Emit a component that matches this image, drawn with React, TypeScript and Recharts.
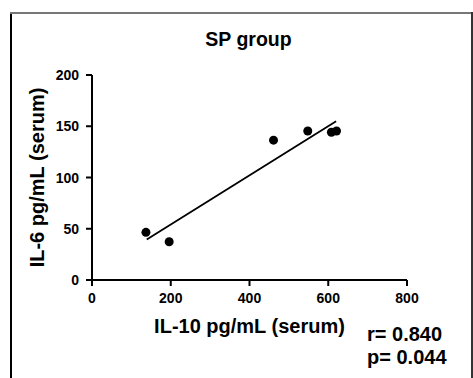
import React from 'react';
import { ScatterChart, Scatter, XAxis, YAxis, Label } from 'recharts';

// IL-10 (x) vs IL-6 (y), serum, SP group
const il10Values = [137, 196, 461, 548, 608, 621];
const il6Values = [46.5, 37.3, 136.4, 145.4, 144.2, 145.4];

// fitted regression line, endpoints
const fitX = [139, 620];
const fitY = [39.6, 154.9];

const xTicks = [0, 200, 400, 600, 800];
const yTicks = [0, 50, 100, 150, 200];

const stats = ['r= 0.840', 'p= 0.044'];

const points = il10Values.map((x, i) => ({ x, y: il6Values[i] }));
const fitLine = fitX.map((x, i) => ({ x, y: fitY[i] }));

const FONT = '"Liberation Sans", Arial, sans-serif';

const renderXTick = (props: any) => (
    <text
        key={`xt-${props.payload.value}`}
        x={props.x}
        y={props.y + 11}
        textAnchor="middle"
        style={{ fontSize: 14, fontWeight: 700, fontFamily: FONT, fill: '#000' }}
    >
        {props.payload.value}
    </text>
);
const renderYTick = (props: any) => (
    <text
        key={`yt-${props.payload.value}`}
        x={props.x}
        y={props.y + 5}
        textAnchor="end"
        style={{ fontSize: 14, fontWeight: 700, fontFamily: FONT, fill: '#000' }}
    >
        {props.payload.value}
    </text>
);

export default function App() {
    return (
        <div style={{ position: 'absolute', left: 0, top: 0, width: 473, height: 378, background: '#fff' }}>
            {/* frame */}
            <div style={{ position: 'absolute', left: 10, top: 12, width: 1.5, height: 366, background: '#000' }} />
            <div style={{ position: 'absolute', left: 10, top: 12, width: 463, height: 1.5, background: '#777' }} />
            <div style={{ position: 'absolute', left: 471, top: 12, width: 1.5, height: 366, background: '#333' }} />

            <div style={{ position: 'absolute', left: 0, top: 0 }}>
                <ScatterChart width={473} height={378} margin={{ top: 75, right: 66, bottom: 38, left: 30 }}>
                    <XAxis
                        type="number"
                        dataKey="x"
                        domain={[0, 800]}
                        ticks={xTicks}
                        height={60}
                        axisLine={{ stroke: '#000', strokeWidth: 2 }}
                        tickLine={{ stroke: '#000', strokeWidth: 2 }}
                        tickSize={6}
                        tickMargin={6}
                        tick={renderXTick}
                        interval={0}
                    >
                        <Label
                            value="IL-10 pg/mL (serum)"
                            position="insideBottom"
                            offset={7}
                            style={{ fill: '#000', fontSize: 20, fontWeight: 700, fontFamily: FONT }}
                        />
                    </XAxis>
                    <YAxis
                        type="number"
                        dataKey="y"
                        domain={[0, 200]}
                        ticks={yTicks}
                        width={62}
                        axisLine={{ stroke: '#000', strokeWidth: 2 }}
                        tickLine={{ stroke: '#000', strokeWidth: 2 }}
                        tickSize={6}
                        tickMargin={7}
                        tick={renderYTick}
                        interval={0}
                    >
                        <Label
                            value="IL-6 pg/mL (serum)"
                            angle={-90}
                            position="insideLeft"
                            offset={7}
                            style={{ textAnchor: 'middle', fill: '#000', fontSize: 20, fontWeight: 700, fontFamily: FONT }}
                        />
                    </YAxis>
                    <Scatter
                        data={fitLine}
                        line={{ stroke: '#000', strokeWidth: 1.8 }}
                        lineType="joint"
                        shape={() => <g />}
                        isAnimationActive={false}
                    />
                    <Scatter
                        data={points}
                        fill="#000"
                        shape={(p: any) => <circle cx={p.cx} cy={p.cy} r={4.5} fill="#000" />}
                        isAnimationActive={false}
                    />
                </ScatterChart>
            </div>

            {/* title and statistics */}
            <svg width={473} height={378} style={{ position: 'absolute', left: 0, top: 0, pointerEvents: 'none' }}>
                <text x={248.5} y={45.5} textAnchor="middle" fontSize={19.5} fontWeight={700} fontFamily={FONT} fill="#000">
                    SP group
                </text>
                {stats.map((s, i) => (
                    <text key={s} x={367} y={340.5 + i * 23} fontSize={20} fontWeight={700} fontFamily={FONT} fill="#000">
                        {s}
                    </text>
                ))}
            </svg>
        </div>
    );
}
